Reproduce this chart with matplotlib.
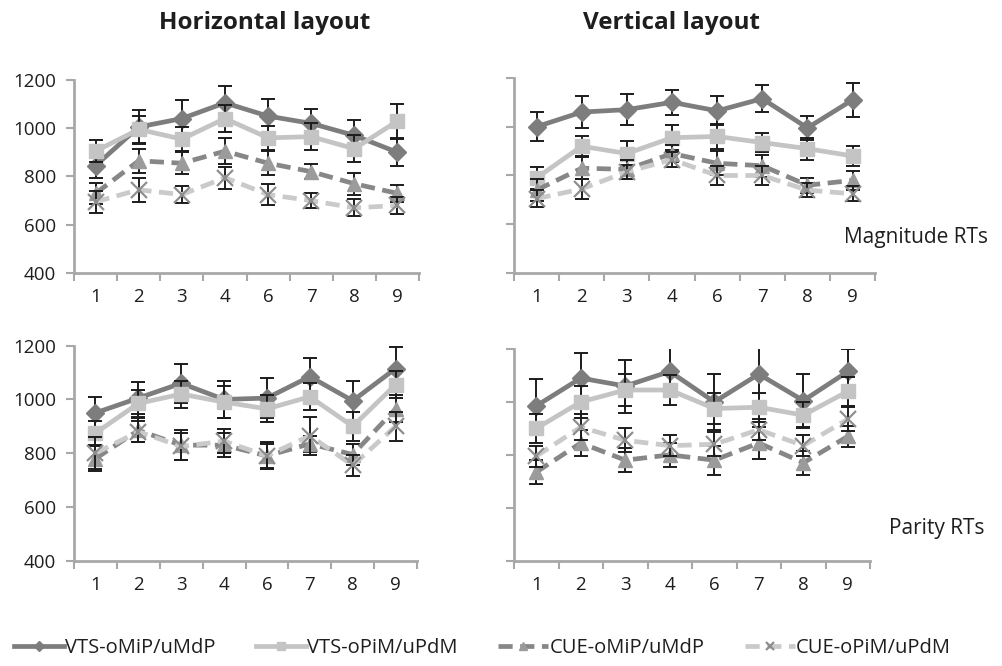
import matplotlib

matplotlib.use("Agg")
import matplotlib.pyplot as plt

CATEGORIES = ["1", "2", "3", "4", "6", "7", "8", "9"]
SERIES = ["VTS-oMiP/uMdP", "VTS-oPiM/uPdM", "CUE-oMiP/uMdP", "CUE-oPiM/uPdM"]

# Magnitude RTs, horizontal layout
MAG_H_MEANS = [
    [845, 1005, 1040, 1105, 1050, 1020, 970, 900],
    [905, 995, 955, 1040, 960, 965, 915, 1030],
    [730, 865, 855, 905, 855, 820, 770, 730],
    [695, 745, 725, 795, 725, 700, 670, 680],
]
MAG_H_ERR = [
    [50, 70, 75, 70, 70, 60, 65, 55],
    [45, 55, 50, 55, 50, 55, 55, 70],
    [45, 50, 45, 55, 50, 30, 45, 35],
    [45, 50, 35, 45, 45, 30, 35, 35],
]

# Magnitude RTs, vertical layout
MAG_V_MEANS = [
    [1000, 1060, 1070, 1100, 1065, 1115, 995, 1110],
    [790, 920, 890, 955, 960, 935, 910, 880],
    [740, 830, 825, 890, 850, 840, 760, 780],
    [705, 745, 815, 865, 800, 800, 740, 725],
]
MAG_V_ERR = [
    [60, 65, 65, 50, 60, 55, 48, 70],
    [45, 40, 50, 50, 50, 40, 45, 40],
    [45, 45, 40, 35, 50, 45, 30, 40],
    [35, 40, 30, 30, 40, 40, 30, 30],
]

# Parity RTs, horizontal layout
PAR_H_MEANS = [
    [950, 1005, 1060, 1000, 1005, 1085, 995, 1115],
    [875, 985, 1020, 990, 965, 1010, 900, 1055],
    [780, 885, 830, 830, 790, 835, 795, 965],
    [800, 880, 825, 845, 790, 865, 755, 900],
]
PAR_H_ERR = [
    [60, 60, 72, 70, 75, 70, 75, 80],
    [45, 50, 50, 60, 50, 50, 55, 50],
    [45, 45, 55, 45, 45, 30, 40, 50],
    [60, 40, 50, 45, 50, 70, 40, 55],
]

# Parity RTs, vertical layout
PAR_V_MEANS = [
    [985, 1090, 1060, 1115, 1000, 1105, 1005, 1115],
    [900, 1000, 1045, 1045, 975, 980, 950, 1040],
    [735, 845, 780, 800, 780, 845, 770, 870],
    [795, 905, 855, 835, 840, 895, 835, 935],
]
PAR_V_ERR = [
    [100, 95, 100, 90, 105, 100, 100, 85],
    [55, 60, 60, 55, 60, 55, 50, 55],
    [45, 50, 45, 45, 55, 60, 45, 40],
    [40, 50, 45, 40, 45, 40, 40, 45],
]

STYLES = [
    dict(color="#7d7d7d", ls="-", marker="D", ms=9, mfc="#7d7d7d", mec="#7d7d7d"),
    dict(color="#c4c4c4", ls="-", marker="s", ms=10.5, mfc="#c4c4c4", mec="#c4c4c4"),
    dict(color="#878787", ls=(0, (3, 1.6)), marker="^", ms=10.5, mfc="#9b9b9b", mec="#9b9b9b"),
    dict(color="#cacaca", ls=(0, (3, 1.6)), marker="x", ms=11, mfc="none", mec="#8e8e8e", mew=1.6),
]

AXIS_GRAY = "#a8a8a8"
TEXT = "#1e1e1e"
FONT = "Open Sans"

fig = plt.figure(figsize=(10.03, 6.66), dpi=100)
plt.rcParams["font.family"] = [FONT, "DejaVu Sans"]

# left, bottom, width, height in figure fractions
boxes = {
    "mag_h": [0.0738, 0.590, 0.344, 0.290],
    "mag_v": [0.5125, 0.590, 0.360, 0.293],
    "par_h": [0.0738, 0.158, 0.342, 0.323],
    "par_v": [0.5125, 0.158, 0.355, 0.318],
}
panels = [
    ("mag_h", MAG_H_MEANS, MAG_H_ERR, True),
    ("mag_v", MAG_V_MEANS, MAG_V_ERR, False),
    ("par_h", PAR_H_MEANS, PAR_H_ERR, True),
    ("par_v", PAR_V_MEANS, PAR_V_ERR, False),
]

x = list(range(len(CATEGORIES)))
handles = []
for key, means, errs, show_y in panels:
    ax = fig.add_axes(boxes[key])
    for i, (m, e) in enumerate(zip(means, errs)):
        st = STYLES[i]
        ax.errorbar(x, m, yerr=e, fmt="none", ecolor="#1c1c1c", elinewidth=1.4,
                    capsize=5, capthick=1.4, zorder=2 + i * 0.1)
        (ln,) = ax.plot(x, m, color=st["color"], ls=st["ls"], lw=3.4,
                        marker=st["marker"], ms=st["ms"], mfc=st["mfc"], mec=st["mec"],
                        mew=st.get("mew", 1), zorder=2.05 + i * 0.1, label=SERIES[i])
        if key == "mag_h":
            handles.append(ln)
    ax.set_xlim(-0.5, len(CATEGORIES) - 0.5)
    ax.set_ylim(400, 1200)
    ax.set_yticks([400, 600, 800, 1000, 1200])
    ax.set_xticks(x)
    ax.set_xticklabels(CATEGORIES)
    ax.set_xticks([v - 0.5 for v in range(len(CATEGORIES) + 1)], minor=True)
    ax.tick_params(axis="x", which="major", length=0, pad=11, labelsize=13.5, labelcolor=TEXT)
    ax.tick_params(axis="x", which="minor", length=6, width=1.5, color=AXIS_GRAY)
    ax.tick_params(axis="y", length=6, width=1.5, color=AXIS_GRAY, labelsize=13.5,
                   labelcolor=TEXT, pad=7, labelleft=show_y)
    for side in ("top", "right"):
        ax.spines[side].set_visible(False)
    for side in ("left", "bottom"):
        ax.spines[side].set_color(AXIS_GRAY)
        ax.spines[side].set_linewidth(2)

fig.text(0.264, 0.965, "Horizontal layout", ha="center", va="center",
         fontsize=17.5, fontweight="bold", color=TEXT)
fig.text(0.669, 0.965, "Vertical layout", ha="center", va="center",
         fontsize=17.5, fontweight="bold", color=TEXT)
fig.text(0.985, 0.643, "Magnitude RTs", ha="right", va="center", fontsize=15, color=TEXT)
fig.text(0.982, 0.207, "Parity RTs", ha="right", va="center", fontsize=15, color=TEXT)

fig.legend(handles=handles, labels=SERIES, loc="center", bbox_to_anchor=(0.481, 0.027),
           ncol=4, frameon=False, fontsize=14.5, handlelength=2.5, handletextpad=0.05,
           columnspacing=2.0, labelcolor=TEXT, markerscale=0.55)

fig.savefig("out.png", dpi=100, facecolor="white")
